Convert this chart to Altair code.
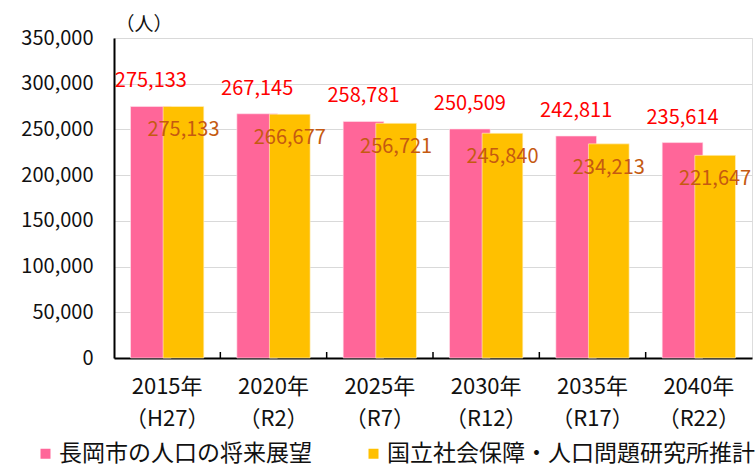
import altair as alt
import pandas as pd

years = ["2015年", "2020年", "2025年", "2030年", "2035年", "2040年"]
eras = ["（H27）", "（R2）", "（R7）", "（R12）", "（R17）", "（R22）"]
series_names = ["長岡市の人口の将来展望", "国立社会保障・人口問題研究所推計"]
vision = [275133, 267145, 258781, 250509, 242811, 235614]
ipss = [275133, 266677, 256721, 245840, 234213, 221647]
y_ticks = [0, 50000, 100000, 150000, 200000, 250000, 300000, 350000]

cats = [f"{y}|{e}" for y, e in zip(years, eras)]
rows = []
for c, v in zip(cats, vision):
    rows.append({"cat": c, "series": series_names[0], "value": v})
for c, v in zip(cats, ipss):
    rows.append({"cat": c, "series": series_names[1], "value": v})
df = pd.DataFrame(rows)
df_v = df[df.series == series_names[0]]
df_i = df[df.series == series_names[1]]
df_ticks = pd.DataFrame({"cat": cats[1:]})

FONT = "Noto Sans CJK JP"
W, H = 638, 320
BAND = W / 6
OFF = 16.3
BW = 40.7

xenc = alt.X("cat:N", sort=cats, scale=alt.Scale(paddingInner=0, paddingOuter=0),
             axis=alt.Axis(title=None, labelExpr="split(datum.label, '|')", labelAngle=0,
                           labelFontSize=22, labelLineHeight=32, labelPadding=18,
                           ticks=False, domainColor="#000", domainWidth=2,
                           labelColor="#111", labelFont=FONT))
yenc = alt.Y("value:Q", scale=alt.Scale(domain=[0, 350000], nice=False),
             axis=alt.Axis(values=y_ticks, labelExpr="format(datum.value, ',')",
                           title="（人）", titleAngle=0,
                           titleX=1, titleY=-14, titleAlign="left", titleBaseline="middle",
                           titleFontSize=19, titleFontWeight="normal", titleFont=FONT,
                           titleColor="#111",
                           labelFontSize=20, labelPadding=21, ticks=False, tickSize=0,
                           domainColor="#000", domainWidth=2, labelColor="#111",
                           labelFont=FONT, gridColor="#D9D9D9", gridWidth=1.2))

color = alt.Color("series:N", scale=alt.Scale(domain=series_names, range=["#FF6699", "#FFC000"]),
                  legend=alt.Legend(title=None, orient="none", direction="horizontal",
                                    legendX=-80, legendY=404, symbolType="square",
                                    symbolSize=100, symbolStrokeWidth=0, labelFontSize=23,
                                    labelFont=FONT, labelColor="#111", labelOffset=2,
                                    columnPadding=50, labelLimit=600, padding=0))

bars_v = alt.Chart(df_v).mark_bar(width=BW, xOffset=-OFF, stroke="#ffe6ee", strokeWidth=0.6).encode(
    x=xenc, y=yenc, color=color)
bars_i = alt.Chart(df_i).mark_bar(width=BW, xOffset=OFF, stroke="#fff2cc", strokeWidth=0.6).encode(
    x=xenc, y=yenc, color=color)

lab_v = alt.Chart(df_v).mark_text(xOffset=-OFF, dy=-25, fontSize=20, font=FONT,
                                  color="#FF0000", baseline="middle").encode(
    x=xenc, y=yenc, text=alt.Text("value:Q", format=","))
lab_i = alt.Chart(df_i).mark_text(xOffset=OFF, dy=24, fontSize=20, font=FONT,
                                  color="#C55A11", baseline="middle").encode(
    x=xenc, y=yenc, text=alt.Text("value:Q", format=","))

ticks = alt.Chart(df_ticks).mark_rule(color="#000", strokeWidth=1.5, xOffset=-BAND / 2).encode(
    x=xenc, y=alt.value(H), y2=alt.value(H - 6))

chart = alt.layer(bars_v, bars_i, lab_v, lab_i, ticks).properties(
    width=W, height=H,
    autosize=alt.AutoSizeParams(type="none"),
    padding={"left": 114, "top": 38, "right": 3, "bottom": 110},
).configure_view(stroke="#000", strokeWidth=1.5).configure(background="white")

chart.save("out.html", embed_options={"renderer": "svg", "actions": False})
